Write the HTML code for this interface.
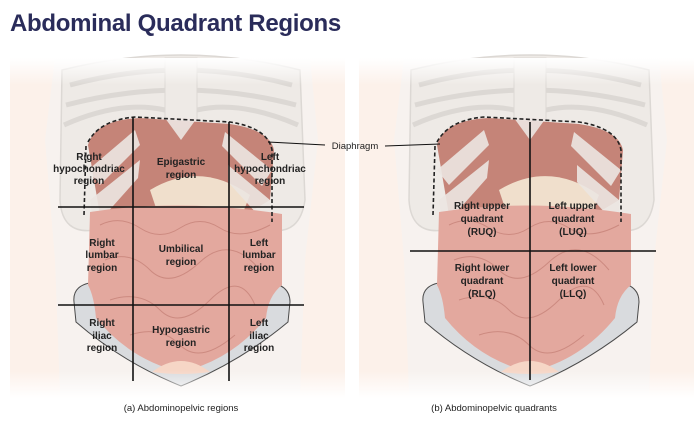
<!DOCTYPE html>
<html><head><style>
body{margin:0;background:#fff;width:694px;height:421px;overflow:hidden;font-family:"Liberation Sans",sans-serif}
h1{position:absolute;left:10px;top:10px;margin:0;font-size:24px;font-weight:bold;color:#2a2c5a;letter-spacing:-0.3px}
svg{position:absolute;left:0;top:0}
</style></head><body>
<h1>Abdominal Quadrant Regions</h1>
<svg width="694" height="421" viewBox="0 0 694 421">
<defs>
<linearGradient id="fade" x1="0" y1="0" x2="0" y2="1"><stop offset="0" stop-color="#fff" stop-opacity="1"/><stop offset="0.08" stop-color="#fff" stop-opacity="0"/><stop offset="0.92" stop-color="#fff" stop-opacity="0"/><stop offset="1" stop-color="#fff" stop-opacity="1"/></linearGradient>
<g id="torso">
  <rect x="10" y="58" width="335" height="340" fill="#fcf1ea"/>
  <path d="M55 58 L310 58 L318 140 L305 260 L300 395 L60 395 L55 260 L45 140 Z" fill="#f7f2ef"/>
  <path d="M62 70 Q181 40 300 70 L305 200 Q300 235 270 230 L95 230 Q62 235 60 200 Z" fill="#eeeae6" stroke="#dcd8d4" stroke-width="1.5"/>
  <g fill="none" stroke="#dcd8d4" stroke-width="5">
    <path d="M70 85 Q181 55 292 85"/><path d="M66 105 Q181 75 296 105"/><path d="M64 125 Q120 100 165 110"/><path d="M197 110 Q240 100 298 125"/>
  </g>
  <rect x="165" y="58" width="32" height="70" fill="#eeeae6" stroke="#dcd8d4"/>
  <path d="M88 145 Q95 120 140 118 L230 124 Q270 130 274 150 L270 200 L245 215 L100 215 Z" fill="#c58478"/>
  <path d="M150 190 Q200 160 250 195 L240 220 L160 220 Z" fill="#f0dfcc"/>
  <g fill="#ece6e2" opacity="0.9">
    <path d="M88 170 L135 130 L140 145 L100 185 Z"/><path d="M90 200 L140 160 L138 178 L105 215 L92 215 Z"/>
    <path d="M272 170 L225 132 L222 146 L262 186 Z"/><path d="M270 200 L228 165 L228 182 L258 215 L270 215 Z"/>
    <path d="M165 118 L197 118 L181 140 Z"/>
  </g>
  <path d="M74 302 Q72 284 96 282 L266 282 Q290 284 290 302 L288 322 Q240 362 181 386 Q122 362 76 322 Z" fill="#d9dbde" stroke="#4a4a4a" stroke-width="1"/>
  <path d="M90 212 Q181 198 282 214 L282 285 Q268 296 266 318 Q232 360 181 372 Q130 360 96 318 Q94 296 88 285 Z" fill="#e3a89e"/>
  <g fill="none" stroke="#cc8a80" stroke-width="1">
    <path d="M100 225 Q120 215 140 228 T180 228 T220 228 T270 225"/><path d="M105 260 Q130 250 150 270 T200 262 T260 270"/><path d="M110 300 Q140 290 160 310 T210 300 T255 305"/><path d="M130 335 Q160 325 180 345 T235 335"/>
  </g>
  <path d="M152 372 Q181 350 210 372 Q181 376 152 372 Z" fill="#f6d6c6"/>
  <path d="M86 146 L84 215 M88 142 Q100 120 135 117 L230 122 Q268 128 272 150 L272 222" fill="none" stroke="#222" stroke-width="1.6" stroke-dasharray="4,2.5"/>
  <rect x="10" y="58" width="335" height="340" fill="url(#fade)"/>
</g>
</defs>
<use href="#torso"/>
<use href="#torso" x="349"/>
<g stroke="#111" stroke-width="1.6">
  <line x1="58" y1="207" x2="304" y2="207"/><line x1="58" y1="305" x2="304" y2="305"/>
  <line x1="133" y1="117" x2="133" y2="381"/><line x1="229" y1="122" x2="229" y2="381"/>
  <line x1="410" y1="251" x2="656" y2="251"/><line x1="530" y1="122" x2="530" y2="380"/>
  <line x1="268" y1="142" x2="325" y2="145" stroke-width="1"/><line x1="385" y1="146" x2="440" y2="144" stroke-width="1"/>
</g>
<g font-size="10" font-weight="bold" fill="#222" text-anchor="middle">
  <text x="89" y="160">Right</text><text x="89" y="172">hypochondriac</text><text x="89" y="184">region</text>
  <text x="181" y="165">Epigastric</text><text x="181" y="178">region</text>
  <text x="270" y="160">Left</text><text x="270" y="172">hypochondriac</text><text x="270" y="184">region</text>
  <text x="102" y="246">Right</text><text x="102" y="258">lumbar</text><text x="102" y="271">region</text>
  <text x="181" y="252">Umbilical</text><text x="181" y="265">region</text>
  <text x="259" y="246">Left</text><text x="259" y="258">lumbar</text><text x="259" y="271">region</text>
  <text x="102" y="326">Right</text><text x="102" y="339">iliac</text><text x="102" y="351">region</text>
  <text x="181" y="333">Hypogastric</text><text x="181" y="346">region</text>
  <text x="259" y="326">Left</text><text x="259" y="339">iliac</text><text x="259" y="351">region</text>
  <text x="482" y="209">Right upper</text><text x="482" y="222">quadrant</text><text x="482" y="235">(RUQ)</text>
  <text x="573" y="209">Left upper</text><text x="573" y="222">quadrant</text><text x="573" y="235">(LUQ)</text>
  <text x="482" y="271">Right lower</text><text x="482" y="284">quadrant</text><text x="482" y="297">(RLQ)</text>
  <text x="573" y="271">Left lower</text><text x="573" y="284">quadrant</text><text x="573" y="297">(LLQ)</text>
</g>
<g font-size="9.5" fill="#222" text-anchor="middle">
  <text x="355" y="149">Diaphragm</text>
  <text x="181" y="411">(a) Abdominopelvic regions</text>
  <text x="494" y="411">(b) Abdominopelvic quadrants</text>
</g>
</svg>
</body></html>
